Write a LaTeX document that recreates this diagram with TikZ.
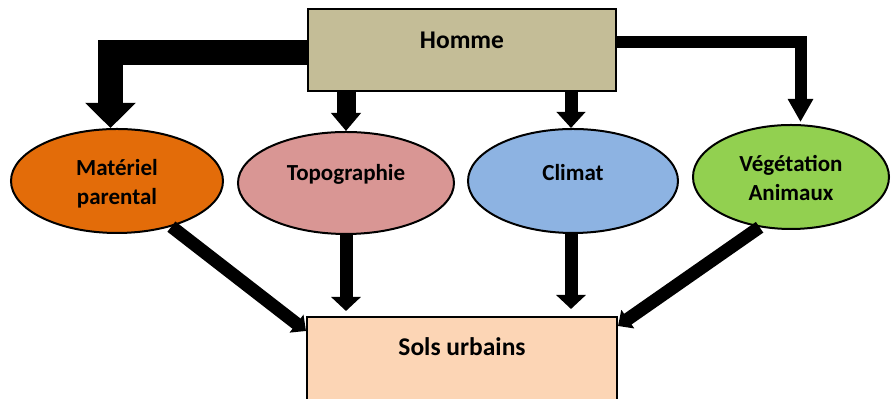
\documentclass[tikz,border=0pt]{standalone}
\usepackage{fontspec}
\setmainfont{Carlito}
\usetikzlibrary{arrows.meta, shapes.geometric}
\definecolor{beige}{HTML}{C4BD97}
\definecolor{orange1}{HTML}{E36C09}
\definecolor{rose1}{HTML}{D99694}
\definecolor{bleu1}{HTML}{8DB3E2}
\definecolor{vert1}{HTML}{92D050}
\definecolor{peche}{HTML}{FCD5B5}

\begin{document}
\begin{tikzpicture}[x=0.5pt, y=-0.5pt,
  boite/.style={draw, line width=1pt, rectangle, inner sep=0pt},
  bulle/.style={draw, line width=1pt, ellipse, inner sep=0pt},
  texte/.style={font=\bfseries\fontsize{11.5}{14.5}\selectfont, align=center, inner sep=0pt},
  titre/.style={font=\bfseries\fontsize{12.75}{15}\selectfont, inner sep=0pt}]
\useasboundingbox (0,0) rectangle (891,399);
\node[boite, fill=beige, minimum width=154pt, minimum height=41pt] (homme) at (462,50) {};
\node[boite, fill=peche, minimum width=155pt, minimum height=45pt] (sols) at (462,362) {};
\node[bulle, fill=orange1, minimum width=106pt, minimum height=52pt] (materiel) at (117,181) {};
\node[bulle, fill=rose1, minimum width=108pt, minimum height=51pt] (topo) at (346,183) {};
\node[bulle, fill=bleu1, minimum width=105pt, minimum height=52pt] (climat) at (573,181) {};
\node[bulle, fill=vert1, minimum width=98pt, minimum height=52pt] (veget) at (791,177) {};
\draw[line width=12.5pt, -{Triangle[width=24.5pt, length=12.5pt]}] ([yshift=-1.25pt]homme.west) -| ([xshift=-3.25pt]materiel.north);
\draw[line width=9.5pt, -{Triangle[width=14.5pt, length=9pt]}] (homme.south -| topo.north) -- (topo.north);
\draw[line width=6.5pt, -{Triangle[width=14pt, length=8pt]}] ([xshift=-1pt]homme.south -| climat.north) -- ([xshift=-1pt]climat.north);
\draw[line width=6pt, -{Triangle[width=12pt, length=11.5pt]}, shorten >=1pt] ([yshift=3.75pt]homme.east) -| ([xshift=4.75pt]veget.north);
\draw[line width=6.5pt, -{Triangle[width=14.5pt, length=7pt]}, shorten >=2.5pt] (topo.south) -- (topo.south |- sols.north);
\draw[line width=6.5pt, -{Triangle[width=14.5pt, length=7pt]}, shorten >=3.5pt] ([xshift=-1pt]climat.south) -- ([xshift=-1pt]climat.south |- sols.north);
\draw[line width=6.5pt, -{Triangle[width=11pt, length=6pt]}] (materiel.-40) -- ([yshift=-7.5pt]sols.north west);
\draw[line width=6.5pt, -{Triangle[width=11pt, length=6pt]}] (veget.-122) -- ([yshift=-5pt]sols.north east);
\node[titre] (t-homme) at (462,40) {Homme};
\node[titre] (t-sols) at (462,347) {Sols urbains};
\node[texte] (t-materiel) at (117,184) {Matériel\\parental};
\node[texte] (t-topo) at (346,174) {Topographie};
\node[texte] (t-climat) at (573,173) {Climat};
\node[texte] (t-veget) at (791,178) {Végétation\\Animaux};
\end{tikzpicture}
\end{document}
